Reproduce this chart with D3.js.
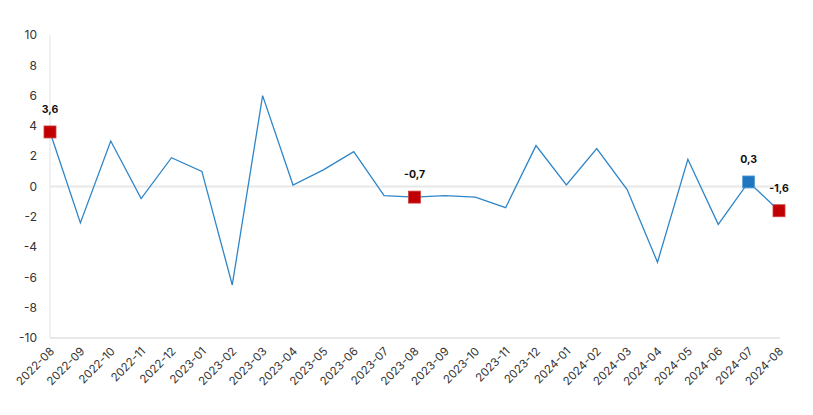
<!DOCTYPE html>
<html>
<head>
<meta charset="utf-8">
<script src="https://cdn.jsdelivr.net/npm/d3@7"></script>
<style>
  body { margin: 0; background: #fff; }
  text { font-family: Inter, "Liberation Sans", Arial, sans-serif; }
</style>
</head>
<body>
<div id="chart"></div>
<script>
var months = ['2022-08','2022-09','2022-10','2022-11','2022-12','2023-01','2023-02','2023-03',
  '2023-04','2023-05','2023-06','2023-07','2023-08','2023-09','2023-10','2023-11','2023-12',
  '2024-01','2024-02','2024-03','2024-04','2024-05','2024-06','2024-07','2024-08'];
var values = [3.6, -2.4, 3.0, -0.8, 1.9, 1.0, -6.5, 6.0, 0.1, 1.1, 2.3, -0.6, -0.7, -0.6, -0.7,
  -1.4, 2.7, 0.1, 2.5, -0.2, -5.0, 1.8, -2.5, 0.3, -1.6];
var yTicks = [-10, -8, -6, -4, -2, 0, 2, 4, 6, 8, 10];
// highlighted points: month, colour key
var marked = [
  { month: '2022-08', kind: 'down' },
  { month: '2023-08', kind: 'down' },
  { month: '2024-07', kind: 'up' },
  { month: '2024-08', kind: 'down' }
];

var W = 813, H = 415,
    margin = { top: 35, right: 34, bottom: 77, left: 50 },
    width = W - margin.left - margin.right,
    height = H - margin.top - margin.bottom;

var x = d3.scalePoint().domain(months).range([0, width]);
var y = d3.scaleLinear().domain([-10, 10]).range([height, 0]);

var svg = d3.select('#chart').append('svg')
    .attr('width', W).attr('height', H);
var g = svg.append('g')
    .attr('transform', 'translate(' + margin.left + ',' + margin.top + ')');

// axis lines
g.append('line')
    .attr('x1', 0).attr('x2', 0).attr('y1', 0).attr('y2', height)
    .attr('stroke', '#e3e3e3').attr('stroke-width', 1);
g.append('line')
    .attr('x1', 0).attr('x2', width + 1).attr('y1', height).attr('y2', height)
    .attr('stroke', '#e8e8e8').attr('stroke-width', 2);
g.append('line')
    .attr('x1', 0).attr('x2', width + 1).attr('y1', y(0)).attr('y2', y(0))
    .attr('stroke', '#e8e8e8').attr('stroke-width', 2);

// y labels
g.selectAll('.ylab').data(yTicks).enter().append('text')
    .attr('class', 'ylab')
    .attr('x', -13).attr('y', function (d) { return y(d); })
    .attr('dy', '0.35em')
    .attr('text-anchor', 'end')
    .attr('font-size', 12).attr('fill', '#333')
    .text(function (d) { return d; });

// x labels
g.selectAll('.xlab').data(months).enter().append('text')
    .attr('class', 'xlab')
    .attr('transform', function (d) { return 'translate(' + (x(d) + 5) + ',' + (height + 14) + ') rotate(-45)'; })
    .attr('text-anchor', 'end')
    .attr('font-size', 11.5).attr('fill', '#333')
    .text(function (d) { return d; });

// line
var line = d3.line()
    .x(function (d, i) { return x(months[i]); })
    .y(function (d) { return y(d); });
g.append('path')
    .datum(values)
    .attr('d', line)
    .attr('fill', 'none')
    .attr('stroke', '#2e86c8')
    .attr('stroke-width', 1.3);

// markers
var colours = { down: '#c00000', up: '#1f78bf' };
var s = 12;
var pts = marked.map(function (m) {
  return { month: m.month, kind: m.kind, value: values[months.indexOf(m.month)] };
});
g.selectAll('.mark').data(pts).enter().append('rect')
    .attr('x', function (d) { return x(d.month) - s / 2; })
    .attr('y', function (d) { return y(d.value) - s / 2; })
    .attr('width', s).attr('height', s)
    .attr('fill', function (d) { return colours[d.kind]; })
    .attr('stroke', function (d) { return d.kind === 'up' ? '#5aa0d6' : '#d04040'; })
    .attr('stroke-width', 0.8);

g.selectAll('.mlab').data(pts).enter().append('text')
    .attr('x', function (d) { return x(d.month); })
    .attr('y', function (d) { return y(d.value) - 19; })
    .attr('text-anchor', 'middle')
    .attr('font-size', 10.5).attr('font-weight', 'bold').attr('fill', '#111')
    .text(function (d) { return String(d.value).replace('.', ','); });
</script>
</body>
</html>
